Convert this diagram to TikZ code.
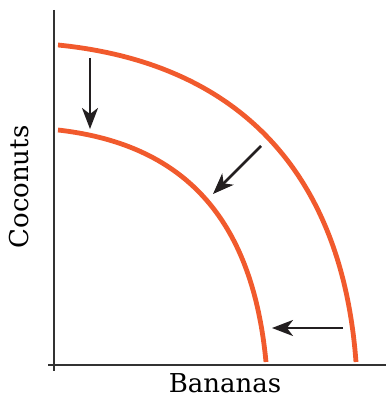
\documentclass[tikz,border=0pt]{standalone}
\usepackage{fontspec}
\setmainfont{DejaVu Serif}
\usetikzlibrary{arrows.meta}
\definecolor{ppf}{RGB}{241,90,45}
\definecolor{axisgray}{RGB}{50,50,50}
\definecolor{arrowblack}{RGB}{35,31,32}
\tikzset{
  axisline/.style={draw=axisgray, line width=1.4pt},
  ppfcurve/.style={draw=ppf, line width=4.8pt},
  shiftarrow/.style={draw=arrowblack, line width=2.6pt,
    -{Stealth[length=21pt,width=16pt,inset=6pt]}},
  axislabel/.style={font=\fontsize{26}{30}\selectfont, text=black, inner sep=0pt}
}
\begin{document}
\begin{tikzpicture}[x=1pt,y=1pt]
\useasboundingbox (0,0) rectangle (386,400);
% axes
\coordinate (ytop) at (54,390);
\coordinate (ybot) at (54,29);
\coordinate (xleft) at (48,35);
\coordinate (xright) at (386,35);
\draw[axisline] (ytop) -- (ybot);
\draw[axisline] (xleft) -- (xright);
% curves
\coordinate (o0) at (58,355); \coordinate (o3) at (356,38);
\coordinate (i0) at (58,270); \coordinate (i3) at (266,38);
\draw[ppfcurve] (o0) .. controls (238,337) and (342,228) .. (o3);
\draw[ppfcurve] (i0) .. controls (190,255) and (253,175) .. (i3);
% arrows
\coordinate (a1s) at (90,342); \coordinate (a1e) at (90,271);
\coordinate (a2s) at (261,254); \coordinate (a2e) at (213,206);
\coordinate (a3s) at (343,72); \coordinate (a3e) at (272,72);
\draw[shiftarrow] (a1s) -- (a1e);
\draw[shiftarrow] (a2s) -- (a2e);
\draw[shiftarrow] (a3s) -- (a3e);
% labels
\node[axislabel, anchor=base] (xl) at (225,7) {Bananas};
\node[axislabel, anchor=base, rotate=90] (yl) at (28,213) {Coconuts};
\end{tikzpicture}
\end{document}
